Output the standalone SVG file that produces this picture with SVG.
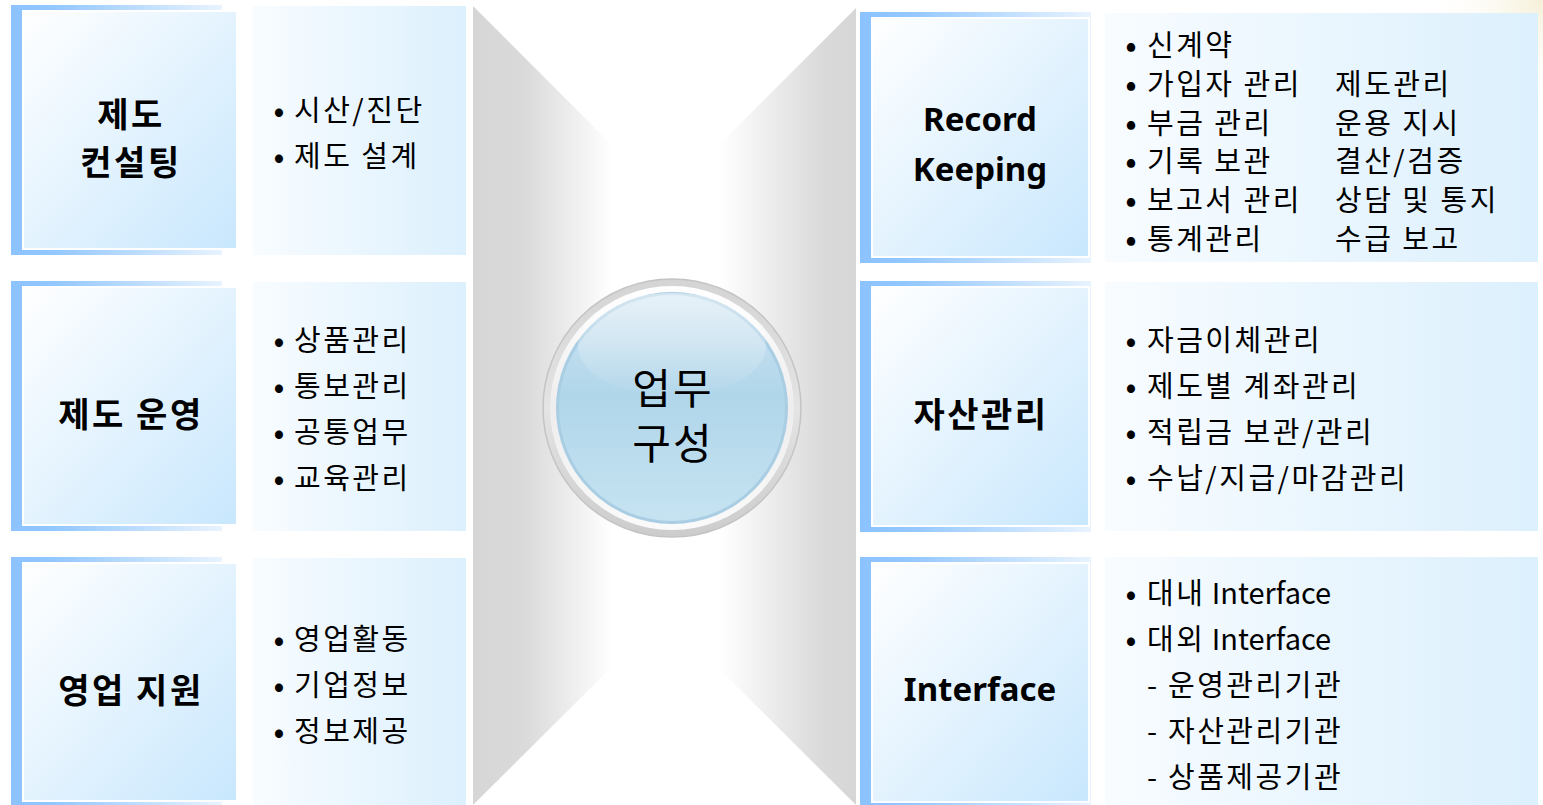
<svg xmlns="http://www.w3.org/2000/svg" width="1543" height="805" viewBox="0 0 1543 805">
<defs>
<linearGradient id="frame" x1="0" y1="0" x2="1" y2="0">
<stop offset="0" stop-color="#8cc3ff"/><stop offset="0.2" stop-color="#92c7ff"/><stop offset="1" stop-color="#e8f3ff"/>
</linearGradient>
<linearGradient id="panel" x1="0" y1="0" x2="1" y2="1">
<stop offset="0" stop-color="#ffffff"/><stop offset="1" stop-color="#c8e7fd"/>
</linearGradient>
<linearGradient id="textp" x1="0" y1="0" x2="1" y2="0">
<stop offset="0" stop-color="#f8fcff"/><stop offset="1" stop-color="#dcf0fd"/>
</linearGradient>
<linearGradient id="grayL" gradientUnits="userSpaceOnUse" x1="473" y1="0" x2="612" y2="0">
<stop offset="0" stop-color="#d6d6d6"/><stop offset="0.38" stop-color="#dadada"/><stop offset="1" stop-color="#ffffff"/>
</linearGradient>
<linearGradient id="grayR" gradientUnits="userSpaceOnUse" x1="856" y1="0" x2="720" y2="0">
<stop offset="0" stop-color="#d6d6d6"/><stop offset="0.25" stop-color="#dadada"/><stop offset="1" stop-color="#ffffff"/>
</linearGradient>
<linearGradient id="ring" x1="0" y1="0" x2="0" y2="1">
<stop offset="0" stop-color="#d4d4d4"/><stop offset="0.5" stop-color="#e4e4e4"/><stop offset="1" stop-color="#cccccc"/>
</linearGradient>
<linearGradient id="ring2" x1="0" y1="0" x2="0" y2="1">
<stop offset="0" stop-color="#ffffff"/><stop offset="0.5" stop-color="#ededed"/><stop offset="1" stop-color="#fafafa"/>
</linearGradient>
<linearGradient id="ball" x1="0" y1="0" x2="0" y2="1">
<stop offset="0" stop-color="#cfe4f1"/><stop offset="0.45" stop-color="#b0d6ea"/><stop offset="1" stop-color="#c6e3f1"/>
</linearGradient>
<linearGradient id="hl" x1="0" y1="0" x2="0" y2="1">
<stop offset="0" stop-color="#ffffff" stop-opacity="0.5"/><stop offset="1" stop-color="#ffffff" stop-opacity="0"/>
</linearGradient>
<radialGradient id="glow" cx="1543" cy="0" r="120" gradientUnits="userSpaceOnUse">
<stop offset="0" stop-color="#f6f0d8"/><stop offset="1" stop-color="#ffffff" stop-opacity="0"/>
</radialGradient>
</defs>
<style>
.frame{fill:url(#frame)}
.panel{fill:url(#panel);stroke:#ffffff;stroke-width:2}
.textp{fill:url(#textp)}
.t{font-family:"Noto Sans CJK KR","Noto Sans",sans-serif;fill:#000}
.title{font-size:34px;font-weight:bold;text-anchor:middle;dominant-baseline:central;letter-spacing:2.5px}
.ltitle{font-family:"Noto Sans","Noto Sans CJK KR",sans-serif;font-size:33px;font-weight:bold;text-anchor:middle;dominant-baseline:central;fill:#000}
.item{font-size:29px;dominant-baseline:central;letter-spacing:2.5px}
.lat{letter-spacing:0}
.b{font-size:32px;text-anchor:middle;letter-spacing:0}
.b2{font-size:29px;font-weight:bold;text-anchor:middle;letter-spacing:0}
.it{text-anchor:start}
.dash{letter-spacing:0}
.center{font-size:42px;text-anchor:middle;dominant-baseline:central;letter-spacing:2px}
</style>
<rect width="1543" height="805" fill="#ffffff"/>
<rect x="1400" y="0" width="143" height="130" fill="url(#glow)"/>

<g id="bowtie">
<polygon points="473,6 640,173 640,639 473,805" fill="url(#grayL)"/>
<polygon points="856,8 688,176 688,638 856,805" fill="url(#grayR)"/>
</g>

<g id="connectors"></g>

<g id="center">
<circle cx="672" cy="408" r="129" fill="url(#ring)" stroke="#c4c4c4" stroke-width="1.5"/>
<circle cx="672" cy="408" r="122" fill="url(#ring2)"/>
<circle cx="672" cy="408" r="116" fill="#a9cde2"/>
<circle cx="672" cy="408" r="113" fill="url(#ball)"/>
<ellipse cx="672" cy="345" rx="94" ry="52" fill="url(#hl)"/>
<text class="t center" x="673" y="385">업무</text>
<text class="t center" x="673" y="440">구성</text>
</g>

<g id="node-consulting">
<rect class="frame" x="11" y="5" width="211" height="250"/>
<rect class="panel" x="23" y="11" width="214" height="238"/>
<rect class="textp" x="253" y="6" width="213" height="249"/>
<text class="t title" x="131" y="112">제도</text>
<text class="t title" x="131" y="160">컨설팅</text>
<text class="t item" y="108"><tspan class="b" x="279">•</tspan><tspan class="it" x="294">시산/진단</tspan></text>
<text class="t item" y="154"><tspan class="b" x="279">•</tspan><tspan class="it" x="294">제도 설계</tspan></text>
</g>

<g id="node-operation">
<rect class="frame" x="11" y="281" width="211" height="250"/>
<rect class="panel" x="23" y="287" width="214" height="238"/>
<rect class="textp" x="253" y="282" width="213" height="249"/>
<text class="t title" x="131" y="412">제도 운영</text>
<text class="t item" y="338"><tspan class="b" x="279">•</tspan><tspan class="it" x="294">상품관리</tspan></text>
<text class="t item" y="384"><tspan class="b" x="279">•</tspan><tspan class="it" x="294">통보관리</tspan></text>
<text class="t item" y="430"><tspan class="b" x="279">•</tspan><tspan class="it" x="294">공통업무</tspan></text>
<text class="t item" y="476"><tspan class="b" x="279">•</tspan><tspan class="it" x="294">교육관리</tspan></text>
</g>

<g id="node-sales">
<rect class="frame" x="11" y="557" width="211" height="250"/>
<rect class="panel" x="23" y="563" width="214" height="238"/>
<rect class="textp" x="253" y="558" width="213" height="249"/>
<text class="t title" x="131" y="688">영업 지원</text>
<text class="t item" y="637"><tspan class="b" x="279">•</tspan><tspan class="it" x="294">영업활동</tspan></text>
<text class="t item" y="683"><tspan class="b" x="279">•</tspan><tspan class="it" x="294">기업정보</tspan></text>
<text class="t item" y="729"><tspan class="b" x="279">•</tspan><tspan class="it" x="294">정보제공</tspan></text>
</g>

<g id="node-record">
<rect class="frame" x="860" y="12" width="231" height="251"/>
<rect class="panel" x="872" y="18" width="217" height="239"/>
<rect class="textp" x="1105" y="13" width="433" height="249"/>
<text class="ltitle" x="980" y="118">Record</text>
<text class="ltitle" x="980" y="168">Keeping</text>
<text class="t item" y="43"><tspan class="b2" x="1131">•</tspan><tspan class="it" x="1147">신계약</tspan></text>
<text class="t item" y="82"><tspan class="b2" x="1131">•</tspan><tspan class="it" x="1147">가입자 관리</tspan><tspan class="it" x="1335">제도관리</tspan></text>
<text class="t item" y="121"><tspan class="b2" x="1131">•</tspan><tspan class="it" x="1147">부금 관리</tspan><tspan class="it" x="1335">운용 지시</tspan></text>
<text class="t item" y="159"><tspan class="b2" x="1131">•</tspan><tspan class="it" x="1147">기록 보관</tspan><tspan class="it" x="1335">결산/검증</tspan></text>
<text class="t item" y="198"><tspan class="b2" x="1131">•</tspan><tspan class="it" x="1147">보고서 관리</tspan><tspan class="it" x="1335">상담 및 통지</tspan></text>
<text class="t item" y="237"><tspan class="b2" x="1131">•</tspan><tspan class="it" x="1147">통계관리</tspan><tspan class="it" x="1335">수급 보고</tspan></text>
</g>

<g id="node-asset">
<rect class="frame" x="860" y="281" width="231" height="251"/>
<rect class="panel" x="872" y="287" width="217" height="239"/>
<rect class="textp" x="1105" y="282" width="433" height="249"/>
<text class="t title" x="981" y="412">자산관리</text>
<text class="t item" y="338"><tspan class="b" x="1131">•</tspan><tspan class="it" x="1147">자금이체관리</tspan></text>
<text class="t item" y="384"><tspan class="b" x="1131">•</tspan><tspan class="it" x="1147">제도별 계좌관리</tspan></text>
<text class="t item" y="430"><tspan class="b" x="1131">•</tspan><tspan class="it" x="1147">적립금 보관/관리</tspan></text>
<text class="t item" y="476"><tspan class="b" x="1131">•</tspan><tspan class="it" x="1147">수납/지급/마감관리</tspan></text>
</g>

<g id="node-interface">
<rect class="frame" x="860" y="557" width="231" height="251"/>
<rect class="panel" x="872" y="563" width="217" height="239"/>
<rect class="textp" x="1105" y="557" width="433" height="249"/>
<text class="ltitle" x="980" y="688">Interface</text>
<text class="t item" y="591"><tspan class="b" x="1131">•</tspan><tspan class="it" x="1147">대내</tspan><tspan class="lat"> Interface</tspan></text>
<text class="t item" y="637"><tspan class="b" x="1131">•</tspan><tspan class="it" x="1147">대외</tspan><tspan class="lat"> Interface</tspan></text>
<text class="t item" y="683"><tspan class="dash" x="1147">-</tspan><tspan class="it" x="1168">운영관리기관</tspan></text>
<text class="t item" y="729"><tspan class="dash" x="1147">-</tspan><tspan class="it" x="1168">자산관리기관</tspan></text>
<text class="t item" y="775"><tspan class="dash" x="1147">-</tspan><tspan class="it" x="1168">상품제공기관</tspan></text>
</g>
</svg>
